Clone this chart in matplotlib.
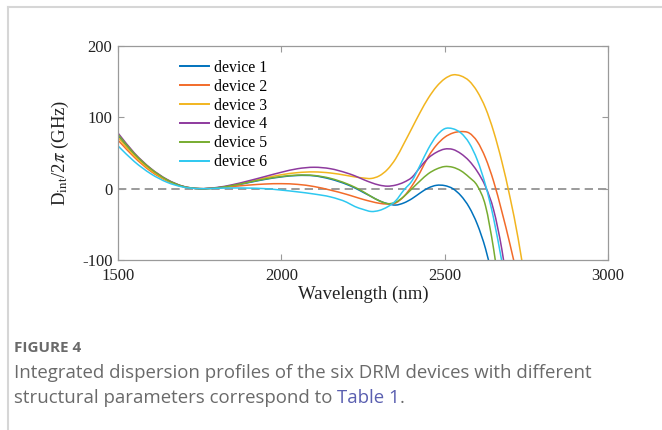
import numpy as np
import matplotlib
matplotlib.use("Agg")
import matplotlib.pyplot as plt
from matplotlib.lines import Line2D
from matplotlib.path import Path
from matplotlib.patches import PathPatch

nan = np.nan

# wavelength grid in nm, finer where the curves bend quickly
wavelength = [1500, 1550, 1600, 1650, 1700, 1750, 1800, 1850, 1900, 1950, 2000, 2050, 2100, 2150, 2200,
              2225, 2250, 2275, 2300, 2325, 2350, 2375, 2400, 2425, 2450, 2475, 2500,
              2525, 2550, 2575, 2600, 2625, 2650, 2675, 2700, 2725, 2750]

# D_int/2pi in GHz for each device
device1 = [74, 48, 27, 12, 3, 0, 1, 4, 8.5, 13, 16.5, 18.5, 18, 13.5, 6,
           1, -5, -11, -17, -21, -23, -20, -14, -6, 1, 4.7, 4.3,
           0, -10, -26, -50, -84, -130, nan, nan, nan, nan]
device2 = [68, 44, 24.5, 11, 2.7, 0, 1, 3, 5, 6.5, 7, 6, 3, -2, -8,
           -11.5, -15, -18, -20.5, -21.5, -20, -11, 4, 23, 45, 61, 72,
           78, 80, 78, 66, 43, 10, -32, -78, -128, nan]
device3 = [72, 46, 26, 11.5, 3, 0, 1, 4.5, 9.5, 15, 19.5, 22.5, 23.5, 22, 18.5,
           16.5, 15, 14.3, 18, 27, 42, 63, 85, 107, 127, 143, 154,
           159.5, 158, 151, 136, 113, 80, 38, -12, -70, -140]
device4 = [78, 50, 28.5, 13, 3.2, 0, 1.5, 5.5, 11, 17, 23, 28, 30, 28, 22,
           18, 13, 8.5, 5, 3.5, 5, 9, 16, 30, 43, 51, 55.5,
           55, 49, 39, 24, 3, -30, -85, -160, nan, nan]
device5 = [76, 49, 28, 12.5, 3, 0, 1, 4.5, 9, 13.5, 17, 19, 18.5, 14.5, 7,
           2, -4, -11, -17, -21, -19, -11, 0, 11, 21, 27.5, 31,
           30, 25, 16, 4, -24, -85, -165, nan, nan, nan]
device6 = [60, 38, 21, 9, 2.2, 0, 0.5, 1, 0.8, 0, -2, -4.5, -7.5, -11.5, -19,
           -25, -29, -32, -30.5, -25.5, -17, -2, 11, 33, 56, 74, 84,
           84, 78, 64, 40, 5, -42, -102, nan, nan, nan]

labels = ["device 1", "device 2", "device 3", "device 4", "device 5", "device 6"]
colors = ["#0072BD", "#F26B2A", "#F2B51F", "#8E3A9E", "#77AC30", "#2EC8F0"]

plt.rcParams["font.family"] = "Liberation Serif"
plt.rcParams["mathtext.fontset"] = "stix"
plt.rcParams["axes.unicode_minus"] = False


def smooth_path(x, y):
    # cubic Hermite segments through the points, written as Bezier curves
    x = np.asarray(x, float)
    y = np.asarray(y, float)
    ok = ~np.isnan(y)
    x, y = x[ok], y[ok]
    m = np.gradient(y, x)
    verts = [(x[0], y[0])]
    codes = [Path.MOVETO]
    for i in range(len(x) - 1):
        h = x[i + 1] - x[i]
        verts += [(x[i] + h / 3, y[i] + m[i] * h / 3),
                  (x[i + 1] - h / 3, y[i + 1] - m[i + 1] * h / 3),
                  (x[i + 1], y[i + 1])]
        codes += [Path.CURVE4] * 3
    return Path(verts, codes)


fig = plt.figure(figsize=(6.62, 4.30), dpi=100)
ax = fig.add_axes([118 / 662, 1 - 260 / 430, 490 / 662, 214 / 430])

ax.axhline(0, color="#8a8a8a", lw=1.2, ls=(0, (5, 3)), zorder=1)
handles = []
for y, lab, c in zip([device1, device2, device3, device4, device5, device6], labels, colors):
    ax.add_patch(PathPatch(smooth_path(wavelength, y), facecolor="none", edgecolor=c, lw=1.1, zorder=2))
    handles.append(Line2D([], [], color=c, lw=1.4, label=lab))

ax.set_xlim(1500, 3000)
ax.set_ylim(-100, 200)
ax.set_xticks([1500, 2000, 2500, 3000])
ax.set_yticks([-100, 0, 100, 200])
ax.tick_params(direction="in", length=4, width=0.8, color="#9a9a9a", labelsize=12,
               top=True, right=True, labelcolor="#222222")
ax.tick_params(axis="x", pad=6)
ax.tick_params(axis="y", pad=4)
for s in ax.spines.values():
    s.set_color("#9a9a9a")
    s.set_linewidth(0.9)

ax.set_xlabel("Wavelength (nm)", fontsize=13.5, color="#222222", labelpad=1)
ax.set_ylabel(r"D$_{\rm int}$/2$\pi$ (GHz)", fontsize=13.5, color="#222222", labelpad=8)

ax.legend(handles=handles, loc="upper left", bbox_to_anchor=(0.127, 0.935), frameon=False, fontsize=11.3,
          handlelength=1.85, handletextpad=0.3, labelspacing=0.18, borderaxespad=0, borderpad=0)

# card border
fig.add_artist(Line2D([8 / 662, 1], [1 - 7 / 430, 1 - 7 / 430], transform=fig.transFigure,
                      color="#d6d6d6", lw=1.5))
fig.add_artist(Line2D([8 / 662, 8 / 662], [0, 1 - 7 / 430], transform=fig.transFigure,
                      color="#d6d6d6", lw=1.5))

# caption
cap = dict(family="Open Sans", color="#6a6a6a", va="baseline", ha="left")
fig.text(14 / 662, 1 - 352 / 430, "FIGURE 4", fontsize=11, fontweight="bold", **cap)
fig.text(14 / 662, 1 - 378 / 430,
         "Integrated dispersion profiles of the six DRM devices with different", fontsize=13.4, **cap)
t1 = fig.text(14 / 662, 1 - 403 / 430, "structural parameters correspond to ", fontsize=13.4, **cap)
r = fig.canvas.get_renderer()
x1 = t1.get_window_extent(r).x1 / fig.bbox.width
t2 = fig.text(x1, 1 - 403 / 430, "Table 1", fontsize=13.4, family="Open Sans", color="#5a5fb0",
              va="baseline", ha="left")
x2 = t2.get_window_extent(r).x1 / fig.bbox.width
fig.text(x2, 1 - 403 / 430, ".", fontsize=13.4, **cap)

fig.savefig("out.png", dpi=100)
